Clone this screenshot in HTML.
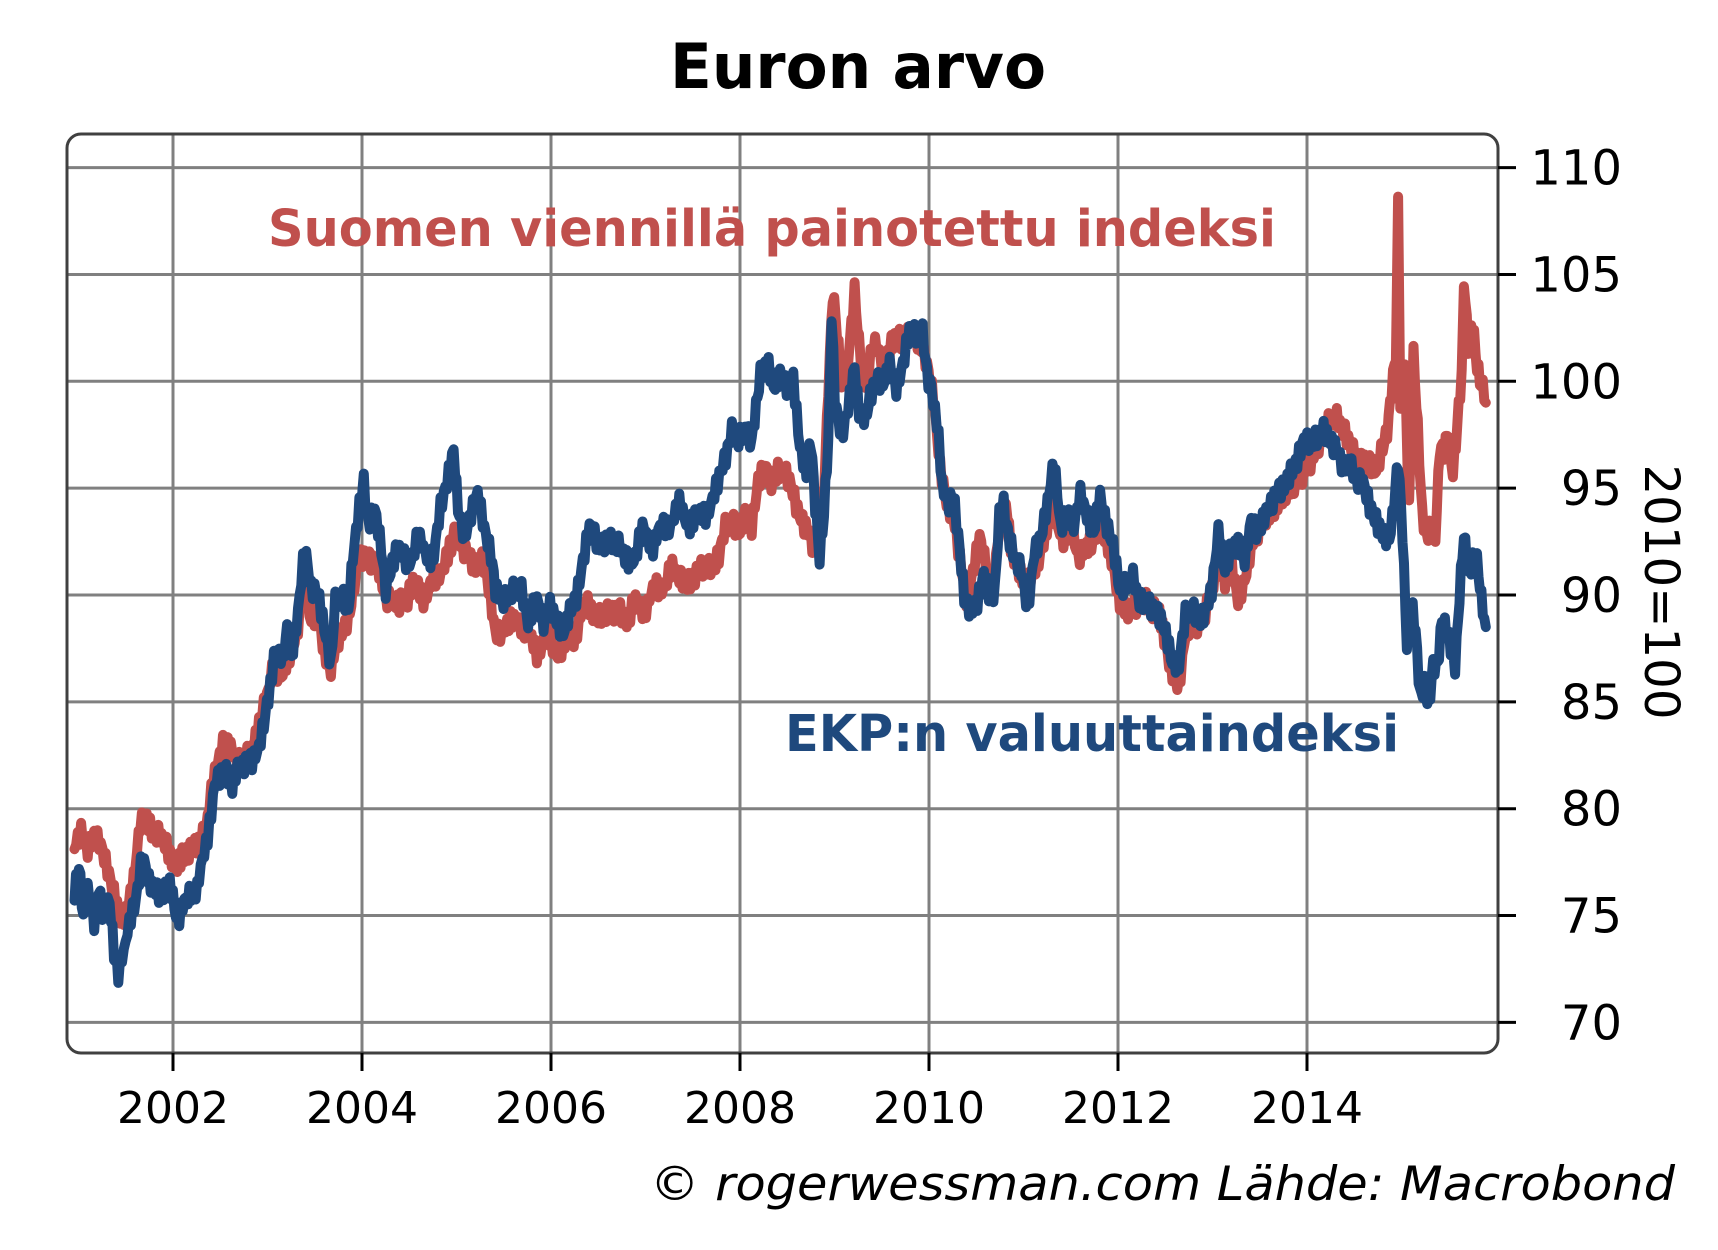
<!DOCTYPE html>
<html><head><meta charset="utf-8"><style>
html,body{margin:0;padding:0;background:#fff;}
svg{display:block;}
</style></head><body>
<svg id="s" width="1718" height="1250" viewBox="0 0 1718 1250" xmlns="http://www.w3.org/2000/svg" font-family="DejaVu Sans, Liberation Sans, sans-serif">
<rect width="1718" height="1250" fill="#fff"/>
<text x="858" y="88" text-anchor="middle" font-size="62" font-weight="bold" textLength="376" lengthAdjust="spacingAndGlyphs">Euron arvo</text>
<g id="grid" stroke="#808080" stroke-width="3"></g>
<g id="lines" fill="none" stroke-linejoin="round" stroke-linecap="round"></g>
<rect x="67" y="134" width="1431" height="919" rx="14" ry="14" fill="none" stroke="#404040" stroke-width="3"/>
<g id="ticks" stroke="#000" stroke-width="3"></g>
<g id="labels" font-size="48"></g>
<text x="268" y="246" font-size="51" font-weight="bold" fill="#c0504d" textLength="1008" lengthAdjust="spacingAndGlyphs">Suomen viennillä painotettu indeksi</text>
<text x="785" y="751" font-size="51" font-weight="bold" fill="#1f497d" textLength="614" lengthAdjust="spacingAndGlyphs">EKP:n valuuttaindeksi</text>
<text transform="translate(1645,592) rotate(90)" text-anchor="middle" font-size="48" textLength="255" lengthAdjust="spacingAndGlyphs">2010=100</text>
<text x="650" y="1200" font-size="47" font-style="italic" textLength="1025" lengthAdjust="spacingAndGlyphs">© rogerwessman.com Lähde: Macrobond</text>
</svg>
<script>
var NS="http://www.w3.org/2000/svg";
function el(p,t,a,txt){var e=document.createElementNS(NS,t);for(var k in a)e.setAttribute(k,a[k]);if(txt)e.textContent=txt;document.getElementById(p).appendChild(e);}
function Y(v){return 167.6+(110-v)*21.37;}
for(var v=70;v<=110;v+=5){var y=Y(v);el('grid','line',{x1:67,x2:1498,y1:y,y2:y});el('ticks','line',{x1:1498,x2:1516,y1:y,y2:y});el('labels','text',{x:1622,y:y+17,'text-anchor':'end'},String(v));}
for(var k=0;k<7;k++){var x=173+k*189;el('grid','line',{x1:x,x2:x,y1:134,y2:1053});el('ticks','line',{x1:x,x2:x,y1:1053,y2:1071});el('labels','text',{x:x,y:1123,'text-anchor':'middle','font-size':'44'},String(2002+2*k));}
var blue=[68,76,72,77,76,75,80,76.5,86,75,90,76.5,95,75,100,75.5,104,73,108,72.5,113,73,118,75,124,76,130,78,136,76.5,142,76,148,75.5,155,76.5,162,75,170,75.5,180,76,188,78.5,196,81,205,81.5,212,81,220,82,230,82,238,83.5,245,85.5,250,87,258,87,262,88,266,87,272,89,278,92,284,90,290,90,296,88.5,302,87,306,89.5,312,90,318,89.5,322,91.5,328,94,332,95,336,93.5,342,94,348,92,352,90.5,358,91.5,366,92,372,91.5,380,92.5,388,92,396,92,402,94,408,95,414,96.5,418,94,424,92.5,430,93.5,436,94.5,442,93,448,92,452,90,458,89.5,464,90,470,90.5,476,90.5,482,89,490,89.5,496,88.5,502,89.5,508,89,514,88.5,520,89.5,526,90,532,91.5,538,93,546,92.5,556,92.5,566,92,572,91.5,580,92,588,93,596,92.5,604,93,612,93.5,620,94,628,93.5,636,93.5,644,94,652,94.5,658,95.5,664,96.5,668,97.5,674,97,680,97.5,686,97,690,98.5,694,100.5,700,101,706,99.5,712,100,718,99.5,724,100,730,97,736,96,740,97,744,94,748,92,752,94,756,97,759,103,762,99,768,97.5,774,99,780,101,784,98.5,790,98.5,794,99,800,100,806,100,812,101,818,100,824,101,830,102.5,836,102,842,102,846,100.5,850,100,855,98,860,95,866,94.5,870,94.5,876,92,880,89.5,886,89,892,89.5,898,91,904,90,908,90,912,93.5,916,94.5,920,93,926,92,932,91.5,938,89.5,944,92,950,92.5,956,94,962,96,968,93,974,94,980,93.5,986,95,992,94,998,93,1004,94.5,1010,93,1016,92,1022,90,1028,90.5,1034,91,1040,90,1046,90,1052,89.5,1058,89,1064,88,1070,86.5,1076,86.5,1082,89,1088,89.5,1094,89,1100,89.5,1106,90.5,1112,93,1118,91,1124,92,1130,92,1136,91.5,1142,93.5,1148,93,1154,94,1160,94.5,1166,95,1172,95,1178,95.5,1184,96,1190,97,1196,97,1202,97.5,1208,98,1214,97.5,1220,97,1226,96,1232,96,1238,95,1244,95,1250,94,1256,93.5,1262,93,1268,93,1272,94,1276,96,1280,93,1284,88,1288,89.5,1292,88,1296,85.5,1300,86,1304,84.5,1308,86.5,1312,87,1316,89,1320,88,1324,87.5,1328,87,1332,90,1336,92.5,1340,91,1344,92,1348,91.5,1352,89.5,1356,88.5];
var red=[68,78.5,74,79,80,78,86,78.5,92,78,98,77,104,76,110,75,116,75.5,122,77,128,79.5,134,79.5,140,78.5,146,78.5,152,78,160,77.5,168,77.5,178,78,188,79,196,81.5,205,83.5,212,82.5,220,82.5,230,83,238,84,245,85.5,250,86.5,258,86.5,266,87,272,88.5,278,91,284,89,290,89.5,296,87.5,302,86.5,306,88,312,88.5,318,89,322,90.5,328,92,334,92,340,91.5,346,91,352,89.5,358,89.5,366,90,372,90,380,90.5,388,90,396,90.5,404,91.5,412,92,416,93,422,92,428,91.5,434,91,440,91.5,446,90.5,452,88.5,458,88.5,466,88.5,474,89,482,88,490,87.5,498,88,506,87.5,514,87.5,522,88,530,89,538,89.5,546,89,556,89.5,566,89.5,572,89,580,89.5,588,89.5,596,90,604,90.5,612,91,620,91,630,90.5,640,91,650,91,656,91.5,662,93,668,93.5,674,93,680,94,686,93.5,692,95.5,698,96,704,95,710,95.5,716,95.5,722,95,728,94,734,93.5,740,93,744,92,748,93,752,95,756,100,760,104,764,102,768,100,774,101,780,104,784,102,790,100,796,101.5,800,102,806,101,812,101.5,818,102,824,101.5,830,102,836,102,842,101.5,846,100.5,852,99,858,96,864,94.5,870,94,876,92,882,90,888,91,894,92.5,900,91,906,90,912,93,918,94.5,924,92,930,91.5,936,90.5,942,91,948,91.5,954,92.5,960,94,966,93,972,92.5,978,93.5,984,92,990,92.5,996,92.5,1002,93,1008,92.5,1016,91.5,1022,90,1028,89.5,1034,89.5,1040,89.5,1046,89.5,1052,89,1058,89,1064,87.5,1070,86.5,1076,86,1082,88.5,1088,89,1094,88.5,1100,89,1106,90,1112,91.5,1118,90.5,1124,91.5,1130,90,1136,91,1142,92.5,1148,93,1154,93.5,1160,93.5,1166,94,1172,94.5,1178,95,1184,95.5,1190,96,1196,96.5,1202,97,1208,97.5,1214,98,1220,98,1226,97.5,1232,97,1238,96.5,1244,96.5,1250,96.5,1256,96,1262,97,1266,98,1270,99.5,1274,101,1276,108.5,1278,99,1282,101,1286,94,1290,101,1294,98,1298,94,1302,92.5,1306,93,1310,93,1314,97,1318,96.5,1322,97.5,1326,96,1330,98,1334,100,1336,105,1340,101.5,1344,102.5,1348,101,1352,100,1356,99];
function path(a,seed){var pts=[];for(var i=0;i<a.length-2;i+=2){var x0=a[i],v0=a[i+1],x1=a[i+2],v1=a[i+3];var n=Math.max(1,Math.round((x1-x0)/1.5));for(var j=0;j<n;j++){var t=j/n;var xd=x0+(x1-x0)*t;var v=v0+(v1-v0)*t;v+=0.45*Math.sin(xd*1.7+seed)+0.3*Math.sin(xd*4.3+seed*2);pts.push((xd*1.0957).toFixed(1)+','+Y(v).toFixed(1));}}
pts.push((a[a.length-2]*1.0957).toFixed(1)+','+Y(a[a.length-1]).toFixed(1));return pts.join(' ');}
el('lines','polyline',{points:path(red,1),stroke:'#c0504d','stroke-width':10});
el('lines','polyline',{points:path(blue,3),stroke:'#1f497d','stroke-width':10});
</script>
</body></html>
